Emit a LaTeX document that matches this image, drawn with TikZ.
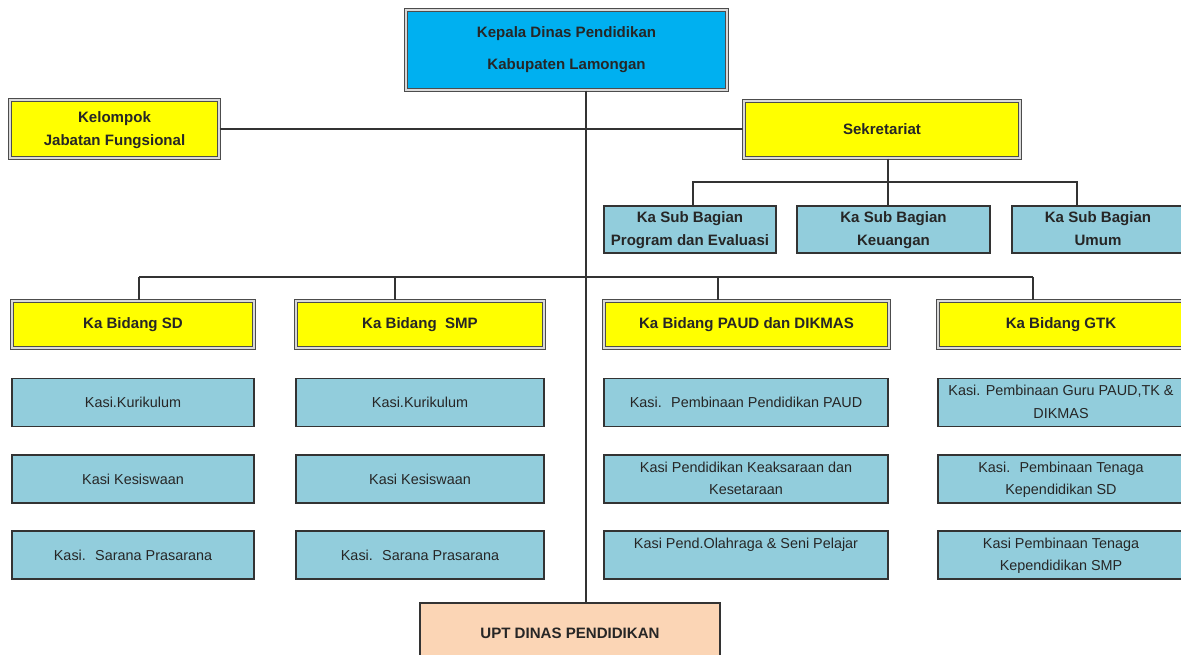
\documentclass[tikz,border=0pt]{standalone}
\usepackage{fontspec}
\setmainfont{Liberation Sans}
\definecolor{kadis}{RGB}{0,176,240}
\definecolor{kuning}{RGB}{255,255,0}
\definecolor{seksi}{RGB}{146,205,220}
\definecolor{uptpeach}{RGB}{251,213,181}

\begin{document}
\begin{tikzpicture}[x=0.75pt, y=-0.75pt,
      every node/.style={align=center, text=black!85, inner sep=1pt, font=\fontsize{11}{13.5}\selectfont},
      px/.style 2 args={minimum width=#1*0.75pt, minimum height=#2*0.75pt},
      jabatan/.style={draw=black!70, double=white!85!black, double distance=1.1pt, line width=0.8pt, font=\fontsize{11.3}{17}\selectfont\bfseries},
      subbag/.style={draw=black!80, line width=0.9pt, fill=seksi, font=\fontsize{11.3}{17}\selectfont\bfseries},
      kasi/.style={draw=black!80, line width=0.9pt, fill=seksi, font=\fontsize{10.8}{17}\selectfont},
      garis/.style={draw=black!80, line width=1pt}]

      \clip (0,0) rectangle (1181,655);
      \useasboundingbox (0,0) rectangle (1181,655);

      % pimpinan dan sekretariat
      \node[jabatan, fill=kadis, px={321}{80}] (kepala) at (566.5,50) {Kepala Dinas Pendidikan\\[7pt]Kabupaten Lamongan};
      \node[jabatan, fill=kuning, px={209}{58}, text depth=1pt] (kelompok) at (114.5,129) {Kelompok\\Jabatan Fungsional};
      \node[jabatan, fill=kuning, px={276}{57}] (sekretariat) at (882,129.5) {Sekretariat};

      \node[subbag, px={172}{47}, text depth=1pt] (subprog) at (690,229.5) {Ka Sub Bagian\\Program dan Evaluasi};
      \node[subbag, px={193}{47}, text depth=1pt] (subkeu) at (893.5,229.5) {Ka Sub Bagian\\Keuangan};
      \node[subbag, px={172}{47}, text depth=1pt] (subumum) at (1098,229.5) {Ka Sub Bagian\\Umum};

      % bidang
      \node[jabatan, fill=kuning, px={242}{47}] (bsd) at (133,324.5) {Ka Bidang SD};
      \node[jabatan, fill=kuning, px={248}{47}] (bsmp) at (420,324.5) {Ka Bidang \ SMP};
      \node[jabatan, fill=kuning, px={285}{47}] (bpaud) at (746.5,324.5) {Ka Bidang PAUD dan DIKMAS};
      \node[jabatan, fill=kuning, px={246}{47}] (bgtk) at (1061,324.5) {Ka Bidang GTK};

      % seksi
      \node[kasi, px={242}{48}] (sdkur) at (133,402.5) {Kasi.Kurikulum};
      \node[kasi, px={242}{48}] (sdsis) at (133,479) {Kasi Kesiswaan};
      \node[kasi, px={242}{48}] (sdsar) at (133,555) {Kasi. \ Sarana Prasarana};

      \node[kasi, px={248}{48}] (smpkur) at (420,402.5) {Kasi.Kurikulum};
      \node[kasi, px={248}{48}] (smpsis) at (420,479) {Kasi Kesiswaan};
      \node[kasi, px={248}{48}] (smpsar) at (420,555) {Kasi. \ Sarana Prasarana};

      \node[kasi, px={284}{48}] (paudbin) at (746,402.5) {Kasi. \ Pembinaan Pendidikan PAUD};
      \node[kasi, px={284}{48}, text depth=1pt] (paudaks) at (746,479) {Kasi Pendidikan Keaksaraan dan\\Kesetaraan};
      \node[kasi, px={284}{48}] (paudor) at (746,555) {Kasi Pend.Olahraga \& Seni Pelajar\\\vphantom{K}};

      \node[kasi, px={246}{48}, text depth=1pt] (gtkguru) at (1061,402.5) {Kasi. Pembinaan Guru PAUD,TK \&\\DIKMAS};
      \node[kasi, px={246}{48}, text depth=1pt] (gtksd) at (1061,479) {Kasi. \ Pembinaan Tenaga\\Kependidikan SD};
      \node[kasi, px={246}{48}, text depth=1pt] (gtksmp) at (1061,555) {Kasi Pembinaan Tenaga\\Kependidikan SMP};

      \node[draw=black!80, line width=0.9pt, fill=uptpeach, px={300}{60}, font=\fontsize{11.3}{14}\selectfont\bfseries] (upt) at (570,633) {UPT DINAS PENDIDIKAN};

      % garis komando
      \coordinate (tiang) at (586,0);
      \draw[garis] (kepala.south -| tiang) -- (upt.north -| tiang);
      \draw[garis] (kelompok.east) -- (kelompok.east -| sekretariat.west);

      \coordinate (sbus) at (888,182);
      \draw[garis] (sekretariat.south -| sbus) -- (subkeu.north -| sbus);
      \draw[garis] ([xshift=2.25pt]subprog.north) |- (sbus) -| ([xshift=-15.75pt]subumum.north);

      \coordinate (bbus) at (586,277);
      \foreach \n/\x in {bsd/139, bsmp/395, bpaud/718, bgtk/1033}{
        \coordinate (d\n) at (\x,277);
        \draw[garis] (d\n) -- (\n.north -| d\n);
      }
      \draw[garis] (dbsd) -- (dbgtk);
\end{tikzpicture}
\end{document}
